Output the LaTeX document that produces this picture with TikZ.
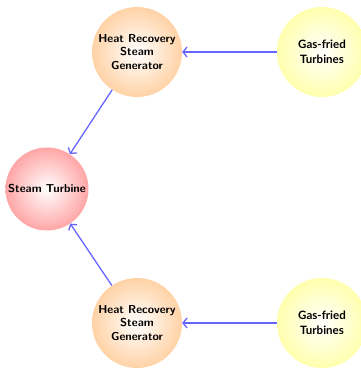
\documentclass[tikz,border=0pt]{standalone}
\usepackage{fontspec}
\newfontfamily\gasfont{Lato}
\usetikzlibrary{arrows.meta}

\tikzset{
  unit/.style={circle, inner sep=0pt, align=center,
    font=\fontsize{11.5}{13.8}\selectfont\sffamily\bfseries},
  hrsg/.style={unit, minimum size=90pt, inner color=white, outer color=orange!35},
  turbine/.style={unit, minimum size=83pt, inner color=white, outer color=red!35},
  gasunit/.style={unit, minimum size=90pt, inner color=white, outer color=yellow!32,
    font=\fontsize{11.5}{14.8}\selectfont\gasfont\bfseries},
  flow/.style={draw=blue!60, line width=1.3pt,
    -{Straight Barb[length=4pt,width=10pt]}},
}

\begin{document}
\begin{tikzpicture}[x=1pt,y=1pt]
  \useasboundingbox (0,0) rectangle (360,368);

  % steam turbine fed by two recovery units
  \node[turbine] (st) at (47,179) {Steam Turbine};

  \node[hrsg] (hrsgA) at (137,316) {Heat Recovery\\Steam\\Generator};
  \node[hrsg] (hrsgB) at (137,45)  {Heat Recovery\\Steam\\Generator};

  \node[gasunit] (gasA) at (322,316) {Gas-fried\\Turbines};
  \node[gasunit] (gasB) at (322,45)  {Gas-fried\\Turbines};

  % heat flow
  \draw[flow] (gasA) -- (hrsgA);
  \draw[flow] (gasB) -- (hrsgB);
  \draw[flow] (hrsgA) -- (st);
  \draw[flow] (hrsgB) -- (st);
\end{tikzpicture}
\end{document}
